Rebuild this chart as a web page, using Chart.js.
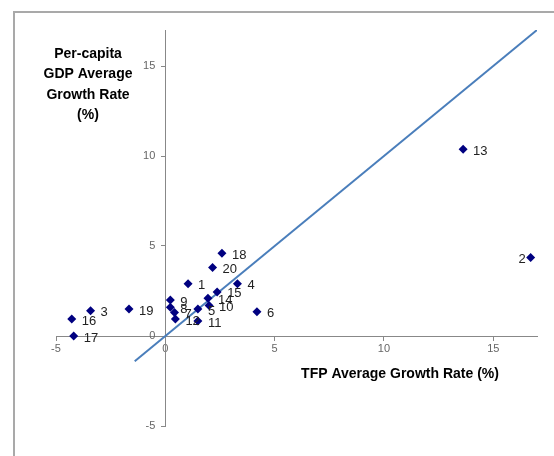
<!DOCTYPE html>
<html>
<head>
<meta charset="utf-8">
<script src="https://cdn.jsdelivr.net/npm/chart.js@4"></script>
<style>
  body { margin: 0; background: #fff; overflow: hidden; }
  #frame { position: absolute; left: 13px; top: 11px; width: 600px; height: 500px;
           border-left: 2px solid #a9a9a9; border-top: 2px solid #a9a9a9; }
  #wrap { position: absolute; left: 0; top: 0; width: 554px; height: 456px; }
</style>
</head>
<body>
<div id="frame"></div>
<div id="wrap"><canvas id="grafico"></canvas></div>
<script>
// datos
const paises = ["1","2","3","4","5","6","7","8","9","10","11","12","13","14","15","16","17","18","19","20"];
const tfp = [1.04, 16.71, -3.42, 3.3, 1.49, 4.19, 0.42, 0.23, 0.23, 2.0, 1.49, 0.46, 13.62, 1.95, 2.37, -4.28, -4.19, 2.59, -1.66, 2.16];
const gdp = [2.9, 4.36, 1.4, 2.9, 1.5, 1.35, 1.3, 1.6, 2.0, 1.7, 0.83, 0.94, 10.37, 2.1, 2.45, 0.94, 0.0, 4.6, 1.5, 3.8];
const lineaX = [-1.4, 17];
const lineaY = [-1.4, 17];
const xTicks = [-5, 0, 5, 10, 15];
const yTicks = [-5, 0, 5, 10, 15];
const tituloY = ["Per-capita", "GDP Average", "Growth Rate", "(%)"];
const tituloX = "TFP Average Growth Rate (%)";

const puntos = tfp.map((v, i) => ({x: v, y: gdp[i]}));
const linea = lineaX.map((v, i) => ({x: v, y: lineaY[i]}));

const fuente = '"Liberation Sans", Arial, sans-serif';

// etiquetas de los puntos, ticks del eje y, titulos de ejes
const etiquetas = {
    id: 'etiquetas',
    afterDatasetsDraw(chart) {
        const ctx = chart.ctx;
        const meta = chart.getDatasetMeta(0);
        const sx = chart.scales.x;
        const sy = chart.scales.y;
        ctx.save();
        // ticks eje y
        ctx.font = '11px ' + fuente;
        ctx.fillStyle = '#666';
        ctx.textAlign = 'right';
        ctx.textBaseline = 'middle';
        const x0 = sx.getPixelForValue(0);
        yTicks.forEach(v => ctx.fillText(String(v), x0 - 10, sy.getPixelForValue(v)));

        ctx.font = '13px ' + fuente;
        ctx.fillStyle = '#222';
        meta.data.forEach((p, i) => {
            if (paises[i] === "2") {
                ctx.textAlign = 'right';
                ctx.fillText(paises[i], p.x - 5, p.y + 2);
            } else {
                ctx.textAlign = 'left';
                ctx.fillText(paises[i], p.x + 10, p.y + 2);
            }
        });
        ctx.font = 'bold 14px ' + fuente;
        ctx.fillStyle = '#000';
        ctx.textAlign = 'center';
        tituloY.forEach((t, i) => ctx.fillText(t, 88, 54 + i * 20.5));
        ctx.fillText(tituloX, 400, 374);
        ctx.restore();
    }
};

const ctx = document.getElementById('grafico').getContext('2d');
const myChart = new Chart(ctx, {
    type: 'scatter',
    data: {
        datasets: [{
            label: 'paises',
            data: puntos,
            pointStyle: 'rectRot',
            pointRadius: 4.5,
            backgroundColor: '#000080',
            borderColor: '#000080',
            borderWidth: 0
        }, {
            label: 'y=x',
            type: 'line',
            data: linea,
            borderColor: '#4a7ebb',
            borderWidth: 2,
            pointRadius: 0,
            fill: false
        }]
    },
    options: {
        responsive: true,
        maintainAspectRatio: false,
        animation: false,
        layout: {
            padding: {left: 56, top: 30, right: 17, bottom: 30}
        },
        scales: {
            x: {
                type: 'linear',
                min: -5,
                max: 17,
                position: {y: 0},
                afterBuildTicks: s => { s.ticks = xTicks.map(v => ({value: v})); },
                grid: { drawOnChartArea: false, tickLength: 4, color: '#888' },
                border: { color: '#888', width: 1 },
                ticks: { color: '#666', padding: 2, maxRotation: 0,
                         font: { size: 11, family: fuente } }
            },
            y: {
                type: 'linear',
                min: -5,
                max: 17,
                position: {x: 0},
                afterBuildTicks: s => { s.ticks = yTicks.map(v => ({value: v})); },
                grid: { drawOnChartArea: false, tickLength: 4, color: '#888' },
                border: { color: '#888', width: 1 },
                ticks: { display: false }
            }
        },
        plugins: {
            legend: { display: false },
            title: { display: false },
            tooltip: { enabled: false }
        }
    },
    plugins: [etiquetas]
});
</script>
</body>
</html>
